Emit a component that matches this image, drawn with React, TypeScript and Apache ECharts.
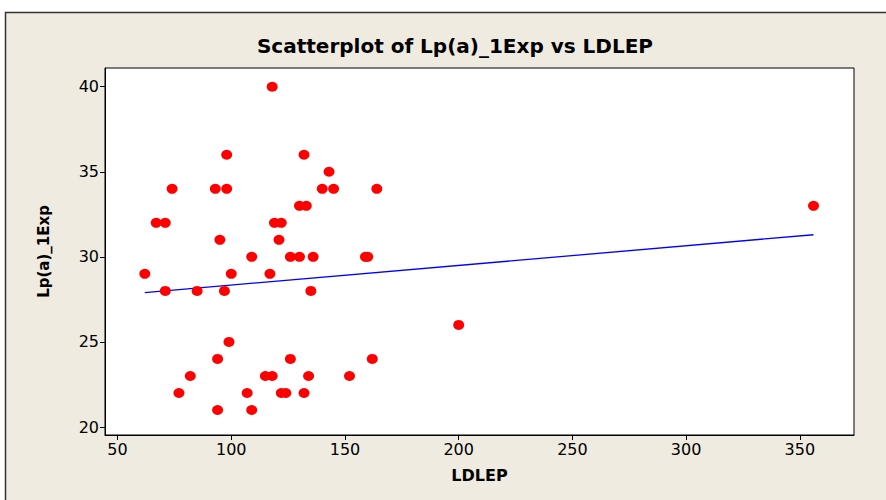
import React, { useEffect, useRef } from "react";
import * as echarts from "echarts";

const ldlep: number[] = [118, 98, 132, 143, 74, 93, 98, 140, 145, 164, 130, 133, 356, 67, 71, 119, 122, 95, 121, 109, 126, 130, 136, 159, 160, 62, 100, 117, 71, 85, 97, 135, 200, 99, 94, 126, 162, 82, 115, 118, 134, 152, 77, 107, 122, 124, 132, 94, 109];
const lpa: number[] = [40, 36, 36, 35, 34, 34, 34, 34, 34, 34, 33, 33, 33, 32, 32, 32, 32, 31, 31, 30, 30, 30, 30, 30, 30, 29, 29, 29, 28, 28, 28, 28, 26, 25, 24, 24, 24, 23, 23, 23, 23, 23, 22, 22, 22, 22, 22, 21, 21];
const fitX: number[] = [62, 356];
const fitY: number[] = [27.9, 31.3];
const xTicks: number[] = [50, 100, 150, 200, 250, 300, 350];
const yTicks: number[] = [20, 25, 30, 35, 40];

export default function App() {
  const ref = useRef<HTMLDivElement>(null);
  useEffect(() => {
    if (!ref.current) return;
    const chart = echarts.init(ref.current, null, { renderer: "svg" });
    const font = "DejaVu Sans";
    chart.setOption({
      animation: false,
      backgroundColor: "#ffffff",
      graphic: [
        {
          type: "rect",
          shape: { x: 5.5, y: 12.5, width: 890, height: 500 },
          style: { fill: "#EFEBE1", stroke: "#333", lineWidth: 1.5 },
          z: -10,
        },
      ],
      title: {
        text: "Scatterplot of Lp(a)_1Exp vs LDLEP",
        left: 450,
        textAlign: "center",
        top: 31,
        textStyle: { fontFamily: font, fontWeight: "bold", fontSize: 20, color: "#000" },
      },
      grid: {
        left: 105,
        top: 68,
        right: 32,
        bottom: 65,
        show: true,
        backgroundColor: "#ffffff",
        borderColor: "#000",
        borderWidth: 1,
      },
      xAxis: {
        type: "value",
        min: 44.5,
        max: 373.8,
        name: "LDLEP",
        nameLocation: "middle",
        nameGap: 32,
        nameTextStyle: { fontFamily: font, fontWeight: "bold", fontSize: 16, color: "#000" },
        splitLine: { show: false },
        axisLine: { show: true, lineStyle: { color: "#000" } },
        axisTick: { show: true, inside: false, length: 5, customValues: xTicks, lineStyle: { color: "#000" } },
        axisLabel: { customValues: xTicks, fontFamily: font, fontSize: 16, color: "#000", margin: 6 },
      },
      yAxis: {
        type: "value",
        min: 19.53,
        max: 41.1,
        name: "Lp(a)_1Exp",
        nameLocation: "middle",
        nameGap: 54,
        nameRotate: 90,
        nameTextStyle: { fontFamily: font, fontWeight: "bold", fontSize: 15, color: "#000" },
        splitLine: { show: false },
        axisLine: { show: true, lineStyle: { color: "#000" } },
        axisTick: { show: true, inside: false, length: 5, customValues: yTicks, lineStyle: { color: "#000" } },
        axisLabel: { customValues: yTicks, fontFamily: font, fontSize: 16, color: "#000", margin: 6 },
      },
      series: [
        {
          type: "line",
          data: fitX.map((x, i) => [x, fitY[i]]),
          showSymbol: false,
          symbol: "none",
          lineStyle: { color: "#0000ff", width: 1.3 },
          z: 1,
        },
        {
          type: "scatter",
          data: ldlep.map((x, i) => [x, lpa[i]]),
          symbol: "circle",
          symbolSize: [11, 10],
          itemStyle: { color: "#ff0000", opacity: 1 },
          z: 2,
        },
      ],
    });
    return () => chart.dispose();
  }, []);
  return (
    <div
      ref={ref}
      style={{ position: "fixed", left: 0, top: 0, width: 886, height: 500 }}
    />
  );
}
